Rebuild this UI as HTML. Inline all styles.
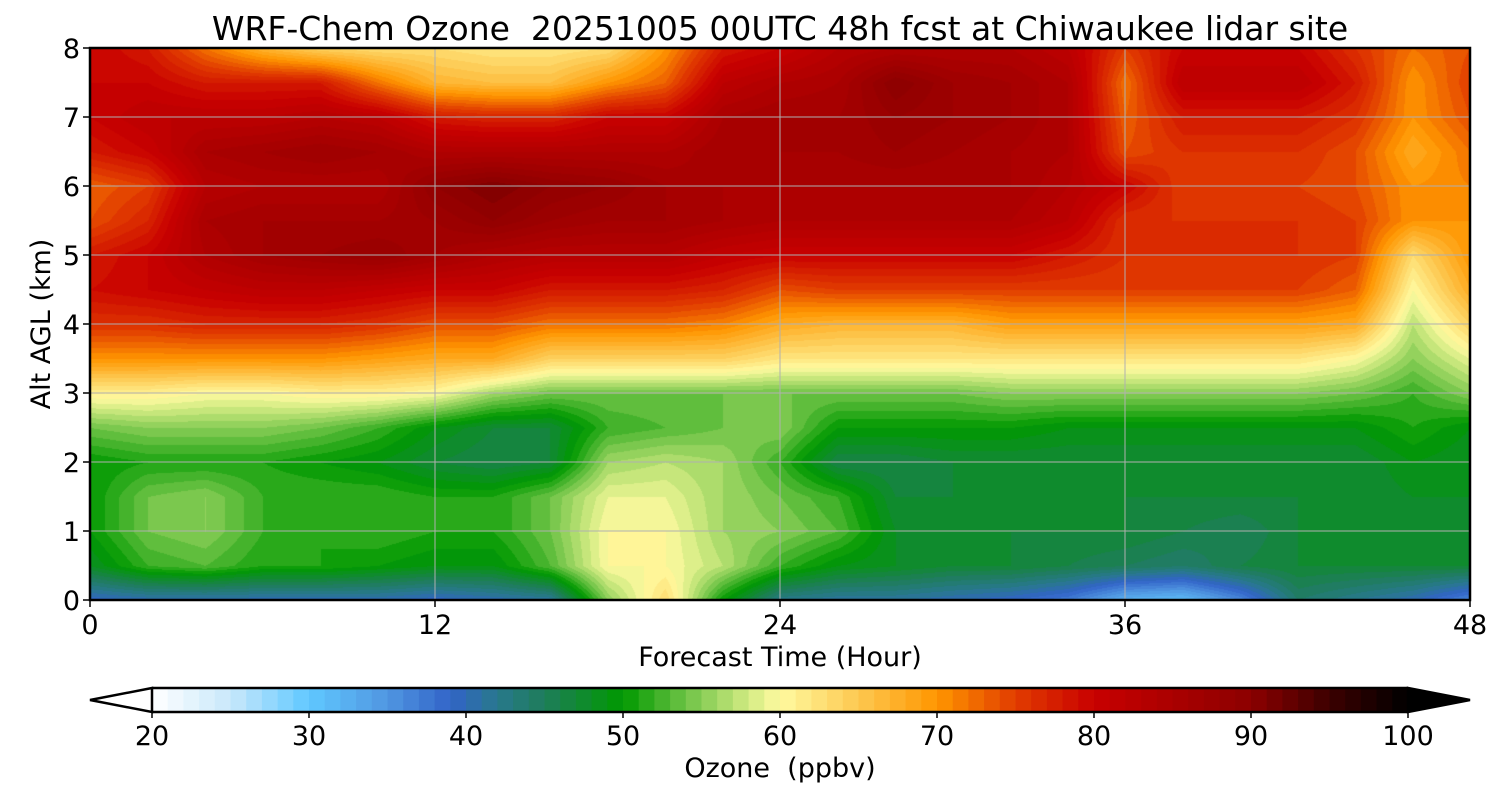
<!DOCTYPE html>
<html><head><meta charset="utf-8"><style>
body{margin:0;background:#fff;width:1500px;height:800px;overflow:hidden;font-family:"Liberation Sans","DejaVu Sans",sans-serif}
#wrap{position:relative;width:1500px;height:800px}
canvas{position:absolute;left:90px;top:48px}
svg{position:absolute;left:0;top:0}
text{font-family:"DejaVu Sans","Liberation Sans",sans-serif;fill:#000;white-space:pre}
</style></head><body>
<div id="wrap">
<canvas id="hm" width="1380" height="552"></canvas>
<svg id="ov" width="1500" height="800"></svg>
</div>
<script>
const times=[0,2,4,6,8,10,12,14,16,18,20,22,24,26,28,30,32,34,36,38,40,42,44,46,48];
const alts=[0,0.5,1,1.5,2,2.5,3,3.5,4,4.5,5,5.5,6,6.5,7,7.5,8];
// ozone[altIndex][timeIndex]
const ozone=[
[39,40,40,40,40,40,39,40,41,55,63,50,42,41,41,40,39,37,32,31,36,44,42,40,36],
[48,52,53,51,51,50,49,49,53,60,60,57,52,49,48,47,47,46,45,44,46,47,47,47,47],
[50,54,55,52,51,52,51,51,54,60,60,56,55,53,48,47,47,47,47,46,45,47,47,47,47],
[50,54,55,52,52,52,51,51,54,59,59,56,54,52,47,47,47,47,47,47,47,47,47,48,48],
[50,51,51,51,50,49,47,46,47,56,57,56,52,46,46,47,47,47,47,47,47,47,47,49,48],
[54,55,55,55,54,52,49,47,47,52,53,54,55,50,50,50,50,49,49,49,49,49,49,51,49],
[61,61,60,60,61,61,60,56,54,54,54,54,54,54,54,54,55,55,55,55,55,55,54,52,55],
[70,70,70,70,70,69,68,68,64,64,64,64,62,62,62,62,62,62,62,62,62,62,60,55,59],
[76,76,77,77,77,76,74,74,72,72,72,71,68,67,67,67,69,69,69,69,69,69,68,57,64],
[79,80,81,82,82,81,80,80,78,78,78,77,74,75,75,75,75,75,75,75,75,75,73,60,68],
[78,80,84,86,87,88,86,84,83,83,83,81,80,80,80,80,80,78,76,76,76,76,75,63,70],
[74,77,85,86,86,86,87,89,87,86,86,85,84,84,84,84,84,82,76,76,76,76,75,70,70],
[73,75,83,84,84,84,89,91,89,88,86,85,85,85,85,85,85,83,80,75,75,75,74,70,71],
[78,80,85,86,87,86,84,84,84,84,84,86,86,86,87,86,85,84,74,76,76,76,74,68,72],
[80,82,82,82,83,82,78,77,77,80,80,85,86,86,88,87,86,84,73,78,78,78,76,70,74],
[80,80,78,78,78,72,67,66,66,70,73,82,84,85,90,87,86,84,72,82,82,82,78,70,75],
[80,78,72,67,64,63,63,62,62,63,70,78,80,83,84,84,84,82,75,80,80,80,76,72,74]
];
const cbTicks=[20,30,40,50,60,70,80,90,100];
const xTicks=[0,12,24,36,48];
const yTicks=[0,1,2,3,4,5,6,7,8];

const anchors=[[20,[255,255,255]],[25,[200,232,250]],[30,[96,200,255]],[35,[80,150,225]],[39,[50,100,200]],[42,[40,120,140]],[45,[30,125,90]],[50,[0,153,0]],[54,[110,195,70]],[58,[210,235,130]],[60,[255,250,160]],[65,[253,200,80]],[70,[255,150,0]],[75,[225,60,0]],[80,[200,0,0]],[85,[170,0,0]],[90,[140,0,0]],[95,[60,0,0]],[100,[0,0,0]]];
function cmap(v){
  v=Math.max(20,Math.min(100,v));
  for(let i=0;i<anchors.length-1;i++){const a=anchors[i],b=anchors[i+1];
    if(v<=b[0]){const f=(v-a[0])/(b[0]-a[0]);return a[1].map((c,k)=>Math.round(c+(b[1][k]-c)*f));}}
  return [0,0,0];
}
const X0=90,X1=1470,Y0=48,Y1=600;
const xs=t=>X0+(t-0)/(48)*(X1-X0);
const ys=z=>Y1-(z/8)*(Y1-Y0);

const cv=document.getElementById('hm'),ctx=cv.getContext('2d');
const W=cv.width,H=cv.height,img=ctx.createImageData(W,H);
function sample(t,z){
  const ti=Math.min(times.length-2,Math.max(0,Math.floor(t/2))),zi=Math.min(alts.length-2,Math.max(0,Math.floor(z/0.5)));
  const ft=(t-times[ti])/(times[ti+1]-times[ti]),fz=(z-alts[zi])/(alts[zi+1]-alts[zi]);
  const a=ozone[zi][ti],b=ozone[zi][ti+1],c=ozone[zi+1][ti],d=ozone[zi+1][ti+1];
  return (a*(1-ft)+b*ft)*(1-fz)+(c*(1-ft)+d*ft)*fz;
}
for(let py=0;py<H;py++){const z=(H-py)/H*8;
  for(let px=0;px<W;px++){const t=px/W*48;
    const v=Math.floor(sample(t,z));const c=cmap(v+0.5);const o=(py*W+px)*4;
    img.data[o]=c[0];img.data[o+1]=c[1];img.data[o+2]=c[2];img.data[o+3]=255;}}
ctx.putImageData(img,0,0);

const NS='http://www.w3.org/2000/svg',svg=document.getElementById('ov');
function el(tag,attrs,txt){const e=document.createElementNS(NS,tag);for(const k in attrs)e.setAttribute(k,attrs[k]);if(txt!==undefined)e.textContent=txt;svg.appendChild(e);return e;}
xTicks.forEach(t=>{const e=el('line',{x1:xs(t),x2:xs(t),y1:Y0,y2:Y1,stroke:'#b0b0b0','stroke-width':1});


const tk=el('line',{x1:xs(t),x2:xs(t),y1:Y1,y2:Y1+7,stroke:'#000','stroke-width':1.5});


const lb=el('text',{x:xs(t),y:Y1+34,'font-size':27,'text-anchor':'middle'},String(t));

});
yTicks.forEach(z=>{const e=el('line',{x1:X0,x2:X1,y1:ys(z),y2:ys(z),stroke:'#b0b0b0','stroke-width':1});


const tk=el('line',{x1:X0-7,x2:X0,y1:ys(z),y2:ys(z),stroke:'#000','stroke-width':1.5});


const lb=el('text',{x:X0-10,y:ys(z)+10,'font-size':27,'text-anchor':'end'},String(z));

});
const fr=el('rect',{x:X0,y:Y0,width:X1-X0,height:Y1-Y0,fill:'none',stroke:'#000','stroke-width':2.5});


const ti=el('text',{x:780,y:40,'font-size':33,'text-anchor':'middle'},'WRF-Chem Ozone  20251005 00UTC 48h fcst at Chiwaukee lidar site');


const xl=el('text',{x:780,y:666,'font-size':27,'text-anchor':'middle'},'Forecast Time (Hour)');


const yl=el('text',{x:50,y:324,'font-size':27,'text-anchor':'middle',transform:'rotate(-90 50 324)'},'Alt AGL (km)');


const CB0=152,CB1=1408,CBy=688,CBh=24;
const cbx=v=>CB0+(v-20)/80*(CB1-CB0);
for(let v=20;v<100;v++){const c=cmap(v+0.5);
 const r=el('rect',{x:cbx(v),y:CBy,width:cbx(v+1)-cbx(v)+0.6,height:CBh,fill:`rgb(${c})`});
 
 }
const lt=el('polygon',{points:`${CB0},${CBy} ${X0},${CBy+CBh/2} ${CB0},${CBy+CBh}`,fill:'#fff',stroke:'#000','stroke-width':2.5});


const rt=el('polygon',{points:`${CB1},${CBy} ${X1},${CBy+CBh/2} ${CB1},${CBy+CBh}`,fill:'#000',stroke:'#000','stroke-width':2.5});


const ln1=el('line',{x1:CB0,x2:CB1,y1:CBy,y2:CBy,stroke:'#000','stroke-width':2.5});


const ln2=el('line',{x1:CB0,x2:CB1,y1:CBy+CBh,y2:CBy+CBh,stroke:'#000','stroke-width':2.5});


cbTicks.forEach(v=>{const tk=el('line',{x1:cbx(v),x2:cbx(v),y1:CBy+CBh,y2:CBy+CBh+6,stroke:'#000','stroke-width':1.5});


const lb=el('text',{x:cbx(v),y:745,'font-size':27,'text-anchor':'middle'},String(v));

});
const cl=el('text',{x:780,y:777,'font-size':27,'text-anchor':'middle'},'Ozone  (ppbv)');


</script>
</body></html>
